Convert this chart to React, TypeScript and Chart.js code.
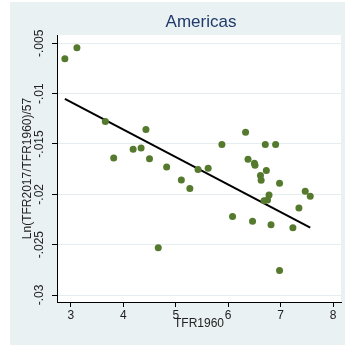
import { useEffect, useRef } from "react";
import { Chart, registerables } from "chart.js";

Chart.register(...registerables);

// ---- data ----
const tfr1960 = [
  2.887, 3.117, 3.658, 3.818, 4.188, 4.34, 4.432, 4.5, 4.827, 5.107, 5.269, 5.425,
  5.618, 5.88, 6.331, 6.707, 6.904, 6.378, 6.5, 6.511, 6.727, 6.615, 6.628, 6.979,
  6.778, 6.75, 6.684, 7.468, 7.564, 7.348, 6.083, 6.464, 6.816, 7.233, 4.667, 6.979,
];
const growthRate = [
  -0.00653, -0.00545, -0.01277, -0.01639, -0.01553, -0.0154, -0.01356, -0.01646,
  -0.01729, -0.01858, -0.01942, -0.01753, -0.01742, -0.01505, -0.01384, -0.01505,
  -0.01505, -0.01651, -0.01691, -0.01711, -0.01763, -0.01813, -0.0186, -0.0189,
  -0.02007, -0.02056, -0.02064, -0.0197, -0.02019, -0.02136, -0.0222, -0.02268,
  -0.02302, -0.02331, -0.0253, -0.02757,
];
const fitX = [2.887, 7.564];
const fitY = [-0.01053, -0.02331];
const xTicks = [3, 4, 5, 6, 7, 8];
const xTickLabels = ["3", "4", "5", "6", "7", "8"];
const yTicks = [-0.03, -0.025, -0.02, -0.015, -0.01, -0.005];
const yTickLabels = ["-.03", "-.025", "-.02", "-.015", "-.01", "-.005"];
const panelTitle = "Americas";
const xTitle = "TFR1960";
const yTitle = "Ln(TFR2017/TFR1960)/57";

const FONT = "'Liberation Sans', Arial, Helvetica, sans-serif";
const BG = "#eaf1f3";

const backgroundPlugin = {
  id: "stataBackground",
  beforeDraw(chart: any) {
    const { ctx, chartArea, width, height } = chart;
    ctx.save();
    ctx.fillStyle = "#ffffff";
    ctx.fillRect(0, 0, width, height);
    ctx.fillStyle = BG;
    ctx.fillRect(10, 2, width - 10, height - 3);
    ctx.fillStyle = "#ffffff";
    ctx.fillRect(chartArea.left, chartArea.top, chartArea.right - chartArea.left, chartArea.bottom - chartArea.top);
    ctx.fillStyle = "#1f3a6b";
    ctx.font = `17px ${FONT}`;
    ctx.textAlign = "center";
    ctx.textBaseline = "alphabetic";
    ctx.fillText(panelTitle, 201, 27);
    ctx.restore();
  },
};

export default function App() {
  const ref = useRef<HTMLCanvasElement | null>(null);

  useEffect(() => {
    if (!ref.current) return;
    const chart = new Chart(ref.current, {
      type: "scatter",
      data: {
        datasets: [
          {
            type: "scatter",
            data: tfr1960.map((x, i) => ({ x, y: growthRate[i] })),
            backgroundColor: "#55792d",
            borderWidth: 0,
            pointRadius: 3.5,
            order: 1,
          },
          {
            type: "line",
            data: fitX.map((x, i) => ({ x, y: fitY[i] })),
            borderColor: "#000000",
            borderWidth: 2,
            pointRadius: 0,
            fill: false,
            order: 2,
          } as any,
        ],
      },
      options: {
        responsive: false,
        animation: false,
        devicePixelRatio: 1,
        layout: { padding: { left: 20, top: 35, right: 0, bottom: 15 } },
        plugins: { legend: { display: false }, tooltip: { enabled: false } },
        scales: {
          x: {
            type: "linear",
            min: 2.737,
            max: 8.15,
            afterBuildTicks: (s: any) => {
              s.ticks = xTicks.map((v) => ({ value: v }));
            },
            afterFit: (s: any) => {
              s.height = 29;
            },
            grid: {
              drawOnChartArea: false,
              drawTicks: true,
              tickLength: 5,
              tickColor: "#000000",
              tickWidth: 1,
            },
            border: { color: "#000000", width: 1 },
            ticks: {
              color: "#222222",
              font: { family: FONT, size: 12 },
              padding: 1,
              maxRotation: 0,
              callback: (_v: any, i: number) => xTickLabels[i],
            },
            title: {
              display: true,
              text: xTitle,
              color: "#222222",
              font: { family: FONT, size: 12 },
              padding: { top: 0, bottom: 0 },
            },
          },
          y: {
            type: "linear",
            min: -0.030695,
            max: -0.004176,
            afterBuildTicks: (s: any) => {
              s.ticks = yTicks.map((v) => ({ value: v }));
            },
            afterFit: (s: any) => {
              s.width = 37;
            },
            grid: {
              color: "#e4edf0",
              lineWidth: 1,
              drawTicks: true,
              tickLength: 5,
              tickColor: "#000000",
              tickWidth: 1,
            },
            border: { color: "#000000", width: 1 },
            ticks: {
              color: "#222222",
              font: { family: FONT, size: 12 },
              minRotation: 90,
              maxRotation: 90,
              crossAlign: "center",
              padding: -1.5,
              callback: (_v: any, i: number) => yTickLabels[i],
            },
            title: {
              display: true,
              text: yTitle,
              color: "#222222",
              font: { family: FONT, size: 12 },
              padding: { top: 0, bottom: 0 },
            },
          },
        },
      },
      plugins: [backgroundPlugin],
    });
    return () => chart.destroy();
  }, []);

  return (
    <div style={{ position: "fixed", left: 0, top: 0, width: 345, height: 346 }}>
      <canvas ref={ref} width={345} height={346} style={{ width: 345, height: 346, display: "block" }} />
    </div>
  );
}
